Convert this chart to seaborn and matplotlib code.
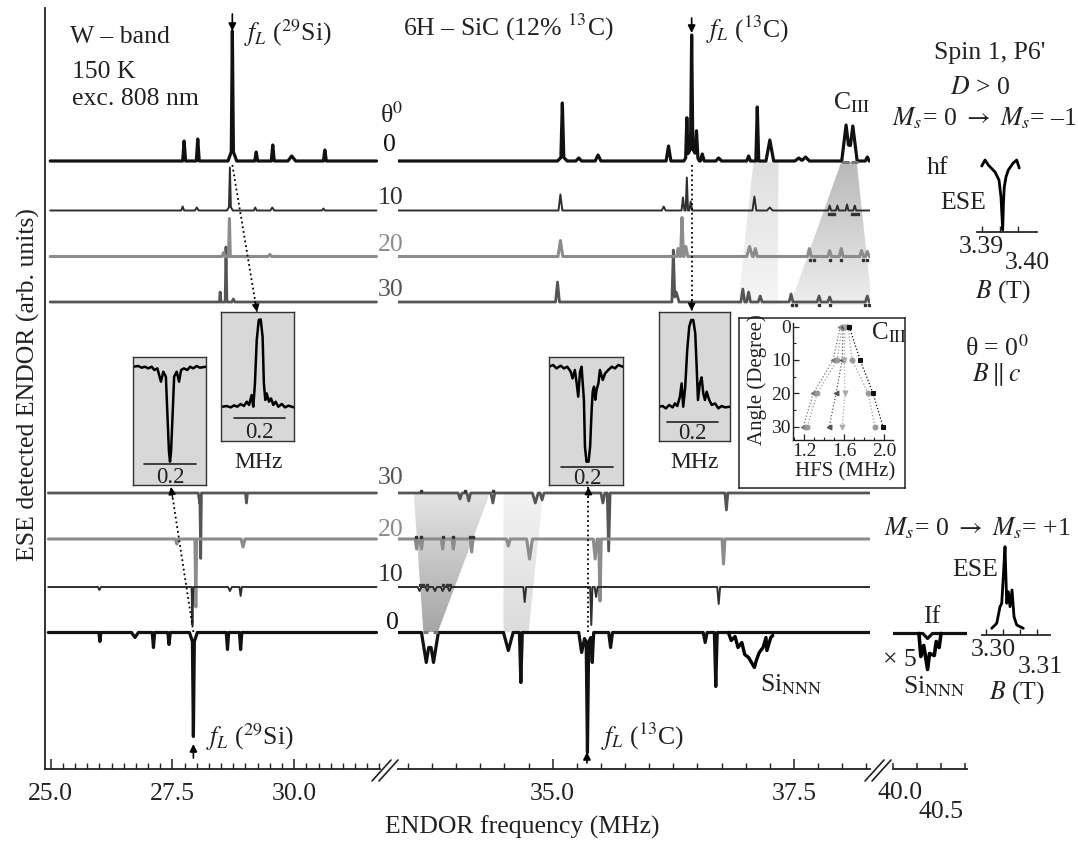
import numpy as np
import matplotlib
matplotlib.use("Agg")
import matplotlib.pyplot as plt
from matplotlib.patches import Polygon
from matplotlib.lines import Line2D
from matplotlib.colors import LinearSegmentedColormap
from matplotlib.ticker import MultipleLocator
import seaborn as sns

sns.set_style("ticks")
plt.rcParams["font.family"] = ["Liberation Serif", "DejaVu Serif"]
plt.rcParams["mathtext.fontset"] = "stix"

W, H = 1078, 842
FS = 18.5

# ---------------- data ----------------
angles = [0, 10, 20, 30]
angle_labels = ["0", "10", "20", "30"]

# peak tables: (ENDOR frequency / MHz, amplitude / arb., half width / MHz)
# M_s = 0 -> -1 (hf, positive lines), 25-32 MHz part
hf0_s1 = [(27.74, 20, 0.03), (28.02, 22, 0.03), (28.73, 118, 0.022), (28.73, 12, 0.09),
          (29.22, 9, 0.03), (29.56, 16, 0.03), (29.95, 5, 0.08), (30.63, 11, 0.03)]
hf10_s1 = [(27.71, 4, 0.03), (28.00, 3, 0.04), (28.68, 38, 0.02), (28.68, 5, 0.06),
           (29.20, 3, 0.03), (29.55, 3, 0.04), (30.60, 2, 0.03)]
hf20_s1 = [(28.55, 4, 0.03), (28.67, 38, 0.018), (29.50, 2, 0.04)]
hf30_s1 = [(28.48, 10, 0.015), (28.60, 55, 0.018), (28.75, 3, 0.03)]
# hf, 33.4-38.3 MHz part
hf0_s2 = [(35.10, 53, 0.015), (35.10, 5, 0.05), (35.27, 3, 0.03), (35.47, 6, 0.03),
          (36.20, 15, 0.025), (36.39, 38, 0.012), (36.44, 112, 0.012), (36.44, 14, 0.08),
          (36.49, 25, 0.015), (36.55, 7, 0.02), (36.72, 3, 0.03), (37.03, 5, 0.02),
          (37.12, 54, 0.015), (37.25, 21, 0.04), (37.55, 3, 0.04), (37.62, 4, 0.04),
          (38.04, 36, 0.045), (38.11, 35, 0.045), (38.26, 4, 0.02)]
hf10_s2 = [(35.08, 16, 0.02), (36.15, 4, 0.02), (36.35, 13, 0.015), (36.39, 33, 0.012),
           (36.43, 9, 0.015), (37.09, 14, 0.02), (37.25, 3, 0.03), (37.87, 5, 0.015),
           (37.95, 5, 0.015), (38.05, 6, 0.015), (38.13, 5, 0.015)]
hf20_s2 = [(35.08, 16, 0.025), (36.30, 8, 0.015), (36.34, 39, 0.015), (36.38, 10, 0.02),
           (37.04, 10, 0.03), (37.10, 8, 0.02), (37.66, 8, 0.02), (37.87, 6, 0.02),
           (37.99, 8, 0.02), (38.20, 6, 0.02), (38.26, 5, 0.02)]
hf30_s2 = [(35.05, 20, 0.02), (36.25, 52, 0.015), (36.28, 10, 0.03), (36.97, 13, 0.02),
           (37.03, 10, 0.02), (37.15, 6, 0.02), (37.47, 8, 0.02), (37.76, 6, 0.02),
           (37.87, 5, 0.02), (38.26, 6, 0.02)]
# M_s = 0 -> +1 (lf, negative lines)
lf0_s1 = [(26.01, -9, 0.02), (26.73, -5, 0.07), (27.11, -15, 0.025), (27.43, -12, 0.025),
          (27.93, -92, 0.02), (27.93, -12, 0.08), (28.63, -17, 0.025), (28.90, -17, 0.025)]
lf10_s1 = [(26.00, -3, 0.03), (27.91, -38, 0.018), (28.68, -4, 0.04), (28.90, -9, 0.025)]
lf20_s1 = [(27.59, -5, 0.03), (27.98, -68, 0.018), (28.95, -8, 0.04)]
lf30_s1 = [(28.06, -10, 0.03), (28.08, -62, 0.015), (29.02, -10, 0.02)]
lf0_s2 = [(33.69, -30, 0.05), (33.765, -30, 0.05), (34.54, -18, 0.05), (34.67, -50, 0.015),
          (35.30, -20, 0.03), (35.36, -108, 0.013), (35.36, -12, 0.06), (35.41, -28, 0.015),
          (35.60, -15, 0.02), (36.58, -10, 0.02), (36.69, -54, 0.015)]
lf10_s2 = [(33.62, -4, 0.02), (33.70, -4, 0.02), (33.78, -4, 0.02), (33.86, -4, 0.02),
           (33.93, -4, 0.02), (34.71, -15, 0.015), (35.40, -38, 0.012), (35.45, -10, 0.015),
           (36.72, -17, 0.015)]
lf20_s2 = [(33.59, -10, 0.015), (33.64, -10, 0.015), (33.86, -10, 0.015), (33.97, -10, 0.015),
           (34.16, -13, 0.015), (34.54, -7, 0.02), (34.76, -20, 0.03), (35.44, -20, 0.02),
           (35.49, -62, 0.013), (36.77, -25, 0.015)]
lf30_s2 = [(34.04, -6, 0.02), (34.13, -8, 0.02), (34.38, -10, 0.02), (34.82, -10, 0.03),
           (34.89, -7, 0.02), (35.52, -10, 0.02), (35.58, -58, 0.015), (36.80, -17, 0.015)]
lf0_s3 = [(40.36, -5, 0.05)]
# Si_NNN group (lf, theta = 0) and the x5 magnified copy
sinnn_f = [36.82, 36.85, 36.89, 36.92, 36.96, 36.99, 37.03, 37.06, 37.09, 37.11, 37.14,
           37.18, 37.21, 37.22, 37.26, 37.28]
sinnn_a = [0, -8, -4, -15, -10, -22, -25, -30, -35, -28, -20, -15, -5, -18, -5, -3]
sinnn5_f = [40.27, 40.29, 40.32, 40.36, 40.38, 40.43, 40.45, 40.48, 40.50]
sinnn5_a = [0, -23, -12, -36, -20, -22, -8, -14, 0]

# C_III positions marked under the lines
hf_mark_f = [[38.01, 38.06, 38.10, 38.15],
             [37.86, 37.89, 37.92, 38.10, 38.13, 38.16],
             [37.67, 37.71, 37.87, 37.99, 38.22, 38.26],
             [37.48, 37.52, 37.76, 37.87, 38.24, 38.28]]
lf_mark_f = [[33.66, 33.71, 33.76, 33.81],
             [33.62, 33.66, 33.70, 33.86, 33.90, 33.94],
             [33.58, 33.64, 33.86, 33.97, 34.14, 34.17],
             [33.64, 34.09, 34.38]]

# zoomed insets: offset from line centre / MHz, amplitude / arb.
ins_si_lf_x = [-0.142, -0.123, -0.110, -0.097, -0.084, -0.071, -0.061, -0.049, -0.035, -0.026,
               -0.016, -0.007, -0.004, 0.0, 0.004, 0.007, 0.016, 0.026, 0.035, 0.043, 0.054,
               0.067, 0.078, 0.090, 0.103, 0.116, 0.140]
ins_si_lf_y = [0, 0.7, -1, 0, -1.7, 0, -3.3, -1.7, -15, -5, -10, -67, -85, -95, -85, -67, -10,
               -5, -15, -3.3, -1.7, -3.3, 0, -1.7, 0.7, -1, 0]
ins_si_hf_x = [-0.1435, -0.128, -0.112, -0.099, -0.086, -0.073, -0.060, -0.049, -0.040, -0.030,
               -0.0235, -0.017, -0.010, -0.002, 0.0055, 0.013, 0.018, 0.0235, 0.029, 0.038,
               0.046, 0.055, 0.064, 0.0745, 0.088, 0.101, 0.114, 0.136]
ins_si_hf_y = [0, 0.7, -0.7, 1.3, 0, 2.7, 0.7, 5, 1.7, 11.7, 0, 23.3, 66.7, 86.7, 87.3, 70,
               23.3, 6.7, 13.3, 5, 8.3, 1.7, 5, 0, 2.7, -0.7, 1, -0.7]
ins_c_lf_x = [-0.148, -0.132, -0.119, -0.103, -0.090, -0.0775, -0.064, -0.057, -0.048, -0.041,
              -0.035, -0.028, -0.022, -0.018, -0.013, -0.009, -0.003, 0.005, 0.011, 0.017,
              0.021, 0.026, 0.031, 0.036, 0.043, 0.049, 0.060, 0.069, 0.081, 0.095, 0.107,
              0.120, 0.137]
ins_c_lf_y = [0, 1.7, -1.7, 1, -1.7, 0, -5, -11.7, -3.3, -16.7, -30, -5, 0, -15, -33, -80, -95,
              -95, -80, -43, -25, -20, -33, -23, -16.7, -3.3, -13.3, -6.7, -3.3, 0, -1.7, 1.7, 0]
ins_c_hf_x = [-0.130, -0.117, -0.104, -0.091, -0.0775, -0.068, -0.059, -0.0486, -0.042, -0.0356,
              -0.0277, -0.0198, -0.0119, -0.004, 0.004, 0.0119, 0.0174, 0.0225, 0.030, 0.037,
              0.0435, 0.050, 0.057, 0.067, 0.077, 0.090, 0.103, 0.116, 0.129, 0.149]
ins_c_hf_y = [0, 0.7, -1.7, 1.7, -0.7, 3.3, 0.7, 10, 23.3, 0, 20, 56.7, 80, 86.7, 86.7, 73.3, 40,
              6.7, 23.3, 29.3, 13.3, 6.7, 15, 6.7, 1.7, 3.3, -1.7, 0.7, -0.7, 0]

# field-swept ESE spectra
ese_hf_B = [3.38992, 3.39083, 3.39175, 3.39361, 3.39472, 3.39528, 3.39575, 3.39597, 3.39619,
            3.39667, 3.39731, 3.39869, 3.39964, 3.40036]
ese_hf_I = [66, 72, 67, 60, 52, 35, 2, 30, 45, 55, 62, 69, 72, 64]
ese_lf_B = [3.29668, 3.29815, 3.29912, 3.29962, 3.30009, 3.30059, 3.30109, 3.30156, 3.30206,
            3.30265, 3.30324, 3.30403, 3.30597]
ese_lf_I = [6.7, 11.7, 28.3, 31.7, 58.3, 88.3, 31.7, 43.3, 28.3, 45, 18.3, 10, 6.7]

# C_III hyperfine splitting vs angle
ciii_angle = [0, 10, 20, 30]
ciii_hfs = [[1.56, 1.49, 1.29, 1.19],
            [1.58, 1.53, 1.33, 1.23],
            [1.59, 1.58, 1.52, 1.45],
            [1.61, 1.60, 1.61, 1.58],
            [1.64, 1.68, 1.84, 1.91],
            [1.65, 1.76, 1.89, 1.99]]

# ---------------- styles / layout ----------------
trace_offsets_hf = [608, 558.5, 512.5, 467]
trace_offsets_lf = [136.5, 182, 230, 276]
trace_colors = ["#111111", "#2e2e2e", "#8c8c8c", "#555555"]
trace_lw = [2.3, 1.4, 2.2, 2.0]
seg1 = (24.883, 31.762)
seg2 = (33.397, 38.288)
seg3 = (39.995, 40.77)

fig = plt.figure(figsize=(W / 100, H / 100), dpi=100)


def rect(l, t, r, b):
    return [l / W, 1 - b / H, (r - l) / W, (b - t) / H]


def ftext(px, py, s, **kw):
    kw.setdefault("fontsize", FS)
    kw.setdefault("va", "center")
    kw.setdefault("ha", "left")
    fig.text(px / W, 1 - py / H, s, **kw)


def trace(ax, lo, hi, peaks, base, color, lw):
    xs = {lo, hi}
    for c, h, w in peaks:
        xs |= {c - w, c, c + w}
    xs = np.array(sorted(x for x in xs if lo <= x <= hi))
    ys = np.full(len(xs), float(base))
    for c, h, w in peaks:
        ys += h * np.clip(1 - np.abs(xs - c) / w, 0, None)
    sns.lineplot(x=xs, y=ys, ax=ax, color=color, lw=lw, estimator=None, sort=False, zorder=3)


def wedge(ax, ytop, ybot, xtop, xbot, ctop, cbot):
    poly = Polygon([(xtop[0], ytop), (xtop[1], ytop), (xbot[1], ybot), (xbot[0], ybot)],
                   closed=True, facecolor="none", edgecolor="none")
    ax.add_patch(poly)
    cmap = LinearSegmentedColormap.from_list("w", [cbot, ctop])
    grad = np.linspace(0, 1, 64)[:, None]
    im = ax.imshow(grad, extent=[min(xtop[0], xbot[0]), max(xtop[1], xbot[1]), ybot, ytop],
                   cmap=cmap, aspect="auto", origin="lower", zorder=0.5, interpolation="bilinear")
    im.set_clip_path(poly)


def dotted_arrow(ax, start, end):
    ax.plot([start[0], end[0]], [start[1], end[1]], ls=":", color="k", lw=1.3, zorder=4)
    back = (end[0] - 0.07 * (end[0] - start[0]), end[1] - 0.07 * (end[1] - start[1]))
    ax.annotate("", xy=end, xytext=back,
                arrowprops=dict(arrowstyle="-|>", color="k", lw=1.0, mutation_scale=11,
                                shrinkA=0, shrinkB=0), zorder=5)


def arrow(ax, x, y0, y1):
    ax.annotate("", xy=(x, y1), xytext=(x, y0),
                arrowprops=dict(arrowstyle="-|>", color="k", lw=1.2, mutation_scale=11,
                                shrinkA=0, shrinkB=0))


ax1 = fig.add_axes(rect(45, 8, 380, 769))
ax2 = fig.add_axes(rect(398, 8, 870, 769))
ax3 = fig.add_axes(rect(892.5, 8, 967, 769))

# wedges
wedge(ax2, 607, 464, (37.08, 37.34), (36.92, 37.33), "#e0e0e0", "#f6f6f6")
wedge(ax2, 607, 464, (37.99, 38.15), (37.46, 38.31), "#b9b9b9", "#eeeeee")
wedge(ax2, 276, 137, (33.56, 34.35), (33.66, 33.81), "#e4e4e4", "#a6a6a6")
wedge(ax2, 276, 137, (34.49, 34.90), (34.49, 34.75), "#f2f2f2", "#dcdcdc")

hf_s1 = [hf0_s1, hf10_s1, hf20_s1, hf30_s1]
hf_s2 = [hf0_s2, hf10_s2, hf20_s2, hf30_s2]
lf_s1 = [lf0_s1, lf10_s1, lf20_s1, lf30_s1]
lf_s2 = [lf0_s2, lf10_s2, lf20_s2, lf30_s2]

for i in range(4)[::-1]:
    c, lw = trace_colors[i], trace_lw[i]
    trace(ax1, 24.99, 31.69, hf_s1[i], trace_offsets_hf[i], c, lw)
    trace(ax2, 33.40, 38.288, hf_s2[i], trace_offsets_hf[i], c, lw)
    trace(ax1, 24.95, 31.69, lf_s1[i], trace_offsets_lf[i], c, lw)
    trace(ax2, 33.40, 38.288, lf_s2[i], trace_offsets_lf[i], c, lw)
    # markers under the C_III lines
    if i == 0:
        for k in range(0, 4, 2):
            ax2.plot(hf_mark_f[0][k:k + 2], [trace_offsets_hf[0] - 1] * 2, color="#777", lw=2.2, zorder=4)
            ax2.plot(lf_mark_f[0][k:k + 2], [trace_offsets_lf[0] + 1] * 2, color="#777", lw=2.2,
                     ls=(0, (2, 1)), zorder=4)
    else:
        ax2.plot(hf_mark_f[i], [trace_offsets_hf[i] - 3] * len(hf_mark_f[i]), ls="none",
                 marker="s", ms=1.8, color="#333", zorder=4)
        ax2.plot(lf_mark_f[i], [trace_offsets_lf[i] + 2] * len(lf_mark_f[i]), ls="none",
                 marker="s", ms=1.8, color="#333", zorder=4)

trace(ax3, 40.0, 40.77, lf0_s3, trace_offsets_lf[0] - 1, trace_colors[0], trace_lw[0])
sns.lineplot(x=sinnn_f, y=np.array(sinnn_a) + trace_offsets_lf[0], ax=ax2, color="k", lw=2.4,
             estimator=None, sort=False, zorder=3)
sns.lineplot(x=sinnn5_f, y=np.array(sinnn5_a) + trace_offsets_lf[0] - 1, ax=ax3, color="k", lw=2.6,
             estimator=None, sort=False, zorder=3)

# connectors and arrows
dotted_arrow(ax1, (28.73, 604), (29.236, 457))
dotted_arrow(ax1, (27.93, 137), (27.47, 282))
dotted_arrow(ax2, (36.44, 604), (36.44, 458))
dotted_arrow(ax2, (35.37, 137), (35.37, 282))
arrow(ax1, 28.73, 755, 738)
arrow(ax2, 36.44, 751, 736)
arrow(ax1, 27.93, 11, 25)
arrow(ax2, 35.355, 6, 17)

for ax, lim in ((ax1, seg1), (ax2, seg2), (ax3, seg3)):
    ax.set_facecolor("none")
    ax.set_xlim(*lim)
    ax.set_ylim(0, 761)
    ax.set_yticks([])
    ax.set_xlabel("")
    ax.set_ylabel("")
    for s in ("top", "right"):
        ax.spines[s].set_visible(False)
    ax.spines["bottom"].set_linewidth(1.3)
    ax.spines["bottom"].set_color("#222")
    ax.tick_params(axis="x", which="major", direction="in", length=7, width=1.1,
                   labelsize=FS, pad=10, color="#222", labelcolor="#222")
    ax.tick_params(axis="x", which="minor", direction="in", length=4, width=1.0, color="#222")
ax1.spines["left"].set_linewidth(1.3)
ax1.spines["left"].set_color("#222")
ax2.spines["left"].set_visible(False)
ax3.spines["left"].set_visible(False)
ax1.set_xticks([25, 27.5, 30])
ax1.set_xticklabels(["25.0", "27.5", "30.0"])
ax1.xaxis.set_minor_locator(MultipleLocator(0.25))
ax2.set_xticks([35, 37.5])
ax2.set_xticklabels(["35.0", "37.5"])
ax2.xaxis.set_minor_locator(MultipleLocator(0.25))
ax3.set_xticks([40.0, 40.25, 40.5, 40.75])
ax3.set_xticklabels([])
ax3.tick_params(axis="x", which="major", length=4)
ftext(900, 793, "40.0", ha="center", color="#222")
ftext(941, 812, "40.5", ha="center", color="#222")

# axis break marks
for x0 in (372, 865):
    for dx in (0, 7):
        fig.add_artist(Line2D([(x0 + dx) / W, (x0 + dx + 19) / W],
                              [1 - 781 / H, 1 - 760 / H], color="#222", lw=1.2))

# axis titles
ftext(522, 827, "ENDOR frequency (MHz)", ha="center", color="#222")
ftext(28, 385, "ESE detected ENDOR (arb. units)", ha="center", rotation=90, color="#222")

# texts
ftext(70, 37, "W – band", color="#222")
ftext(72, 72, "150 K", color="#222")
ftext(72, 99, "exc. 808 nm", color="#222")
ftext(244, 33, r"$f_L$ ($^{29}$Si)", color="#222")
ftext(206, 737, r"$f_L$ ($^{29}$Si)", color="#222")
ftext(403, 27, r"6H – SiC (12% $^{13}$C)", color="#222")
ftext(706, 30, r"$f_L$ ($^{13}$C)", color="#222")
ftext(601, 737, r"$f_L$ ($^{13}$C)", color="#222")
ftext(833, 103, r"C$_{\mathrm{III}}$", color="#222")
ftext(760, 685, r"Si$_{\mathrm{NNN}}$", color="#222")
ftext(380, 115, r"θ$^{0}$", color="#222")
top_label_y = [145, 198, 245, 290]
bot_label_y = [623, 575, 530, 478]
for i in range(4):
    ftext(383 if i == 0 else 378, top_label_y[i], angle_labels[i], color=trace_colors[i])
    ftext(386 if i == 0 else 378, bot_label_y[i], angle_labels[i], color=trace_colors[i])

ftext(990, 53, "Spin 1, P6'", ha="center", color="#222")
ftext(980, 88, r"$D$ > 0", ha="center", color="#222")
ftext(984, 118, r"$M_s$= 0 $\rightarrow$ $M_s$= –1", ha="center", color="#222")
ftext(927, 168, "hf", color="#222")
ftext(940, 203, "ESE", color="#222")
ftext(981, 247, "3.39", ha="center", color="#222")
ftext(1027, 263, "3.40", ha="center", color="#222")
ftext(1003, 292, r"$B$ (T)", ha="center", color="#222")
ftext(997, 348, r"θ = 0$^{0}$", ha="center", color="#222")
ftext(997, 375, r"$B \parallel c$", ha="center", color="#222")
ftext(977, 528, r"$M_s$= 0 $\rightarrow$ $M_s$= +1", ha="center", color="#222")
ftext(952, 570, "ESE", color="#222")
ftext(923, 617, "If", color="#222")
ftext(883, 660, "× 5", color="#222")
ftext(903, 687, r"Si$_{\mathrm{NNN}}$", color="#222")
ftext(993, 650, "3.30", ha="center", color="#222")
ftext(1040, 667, "3.31", ha="center", color="#222")
ftext(1017, 693, r"$B$ (T)", ha="center", color="#222")
ftext(259, 462, "MHz", ha="center", color="#222", fontsize=17)
ftext(695, 462, "MHz", ha="center", color="#222", fontsize=17)

# ESE spectra
for box, B, I, lim, yl, ticks in (
        ((977, 155, 1037, 232), ese_hf_B, ese_hf_I, (3.3886, 3.4053), (0, 77), [3.39, 3.395, 3.40]),
        ((982, 540, 1050, 635), ese_lf_B, ese_lf_I, (3.29382, 3.31382), (0, 95),
         [3.295, 3.30, 3.305, 3.31])):
    ea = fig.add_axes(rect(*box))
    ea.set_facecolor("none")
    sns.lineplot(x=B, y=I, ax=ea, color="k", lw=2.0, estimator=None, sort=False)
    ea.set_xlim(*lim)
    ea.set_ylim(*yl)
    ea.set_yticks([])
    ea.set_xticks(ticks)
    ea.set_xticklabels([])
    ea.set_xlabel("")
    ea.set_ylabel("")
    for s in ("top", "right", "left"):
        ea.spines[s].set_visible(False)
    ea.spines["bottom"].set_linewidth(1.3)
    ea.tick_params(axis="x", direction="in", length=4, width=1.0)

# zoomed line insets
for box, xs, ys, xl, yl, bar_y, txt_y in (
        ((132.7, 357, 206, 485), ins_si_lf_x, ins_si_lf_y, (-0.1446, 0.1395), (-118.3, 9.7), -97.3, -111),
        ((221, 312.3, 294, 440.7), ins_si_hf_x, ins_si_hf_y, (-0.150, 0.136), (-34, 94.4), -11.6, -25.5),
        ((549, 357.3, 622.7, 485), ins_c_lf_x, ins_c_lf_y, (-0.148, 0.137), (-118.3, 9.4), -100, -112),
        ((659.3, 311.7, 730, 440.7), ins_c_hf_x, ins_c_hf_y, (-0.130, 0.149), (-34, 95), -15, -26.5)):
    ia = fig.add_axes(rect(*box))
    ia.set_facecolor("#d8d8d8")
    sns.lineplot(x=xs, y=ys, ax=ia, color="k", lw=1.8, estimator=None, sort=False)
    ia.plot([-0.1, 0.1], [bar_y, bar_y], color="#222", lw=1.2)
    ia.text(0, txt_y, "0.2", ha="center", va="center", fontsize=16.5, color="#222")
    ia.set_xlim(*xl)
    ia.set_ylim(*yl)
    ia.set_xticks([])
    ia.set_yticks([])
    ia.set_xlabel("")
    ia.set_ylabel("")
    for s in ia.spines.values():
        s.set_linewidth(1.0)
        s.set_color("#333")

# C_III angular dependence inset
ob = fig.add_axes(rect(739.3, 318.3, 905, 488.3))
ob.set_facecolor("white")
ob.set_xticks([])
ob.set_yticks([])
for s in ob.spines.values():
    s.set_linewidth(1.1)
    s.set_color("#222")
ca = fig.add_axes(rect(793.3, 323, 893, 440))
ca.set_facecolor("none")
ciii_styles = [("#777", "<"), ("#999", "o"), ("#555", "<"), ("#aaa", "v"), ("#999", "o"), ("#111", "s")]
for hfs, (col, mk) in zip(ciii_hfs, ciii_styles):
    sns.lineplot(x=hfs, y=ciii_angle, ax=ca, color=col, lw=0.9, ls=":", marker=mk, ms=3.5,
                 markeredgecolor=col, estimator=None, sort=False)
ca.set_xlim(1.09, 2.09)
ca.set_ylim(34, -1.1)
ca.set_xticks([1.2, 1.6, 2.0])
ca.set_xticklabels(["1.2", "1.6", "2.0"])
ca.set_yticks([0, 10, 20, 30])
ca.xaxis.set_minor_locator(MultipleLocator(0.1))
ca.yaxis.set_minor_locator(MultipleLocator(5))
ca.set_xlabel("")
ca.set_ylabel("")
for s in ("top", "right"):
    ca.spines[s].set_visible(False)
for s in ("left", "bottom"):
    ca.spines[s].set_linewidth(1.0)
    ca.spines[s].set_color("#222")
ca.tick_params(which="major", direction="in", length=4, width=0.9, labelsize=14, pad=2,
               color="#222", labelcolor="#222")
ca.tick_params(which="minor", direction="in", length=2.5, width=0.8, color="#222")
ftext(757, 380, "Angle (Degree)", ha="center", rotation=90, fontsize=15, color="#222")
ftext(845, 472, "HFS (MHz)", ha="center", fontsize=15, color="#222")
ftext(871, 333, r"C$_{\mathrm{III}}$", fontsize=18, color="#222")

fig.savefig("out.png", dpi=100)
